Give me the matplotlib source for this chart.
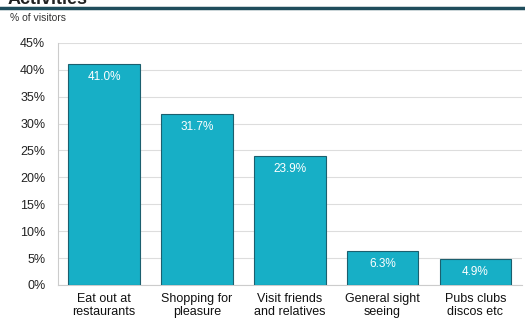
import matplotlib.pyplot as plt
from matplotlib.lines import Line2D

categories = ['Eat out at\nrestaurants', 'Shopping for\npleasure', 'Visit friends\nand relatives',
              'General sight\nseeing', 'Pubs clubs\ndiscos etc']
values = [41.0, 31.7, 23.9, 6.3, 4.9]
yticks = [0, 5, 10, 15, 20, 25, 30, 35, 40, 45]

plt.rcParams['font.family'] = ['Liberation Sans', 'DejaVu Sans']

fig = plt.figure(figsize=(5.25, 3.23), dpi=100)
ax = fig.add_axes([0.110, 0.118, 0.884, 0.749])

x = list(range(len(values)))
ax.bar(x, values, width=0.77, color='#17afc6', edgecolor='#1b5f6e', linewidth=0.8, zorder=3)
for xi, v in zip(x, values):
    ax.text(xi, v - 1.3, f'{v:.1f}%', ha='center', va='top', color='white', fontsize=8.5, zorder=4)

ax.set_ylim(0, 45)
ax.set_xlim(-0.5, len(values) - 0.5)
ax.set_yticks(yticks)
ax.set_yticklabels([f'{t}%' for t in yticks], fontsize=9, color='#222222')
ax.set_xticks(x)
ax.set_xticklabels(categories, fontsize=9, color='#111111', linespacing=1.05)
ax.tick_params(axis='x', length=0, pad=6)
ax.tick_params(axis='y', length=0, pad=9)
ax.grid(axis='y', color='#dddddd', linewidth=0.8, zorder=0)
for s in ['top', 'right']:
    ax.spines[s].set_visible(False)
ax.spines['left'].set_color('#cccccc')
ax.spines['bottom'].set_color('#cccccc')

# title sits mostly above the top edge, as in the cropped original
fig.text(0.015, 0.989, 'Activities', fontsize=13, fontweight='bold', color='#222222', va='baseline')
fig.add_artist(Line2D([0.0, 1.0], [0.975, 0.975], color='#1f4d5c', linewidth=2.5, transform=fig.transFigure))
fig.text(0.02, 0.945, '% of visitors', fontsize=7.5, color='#333333', va='center')

fig.savefig('out.png', dpi=100)
